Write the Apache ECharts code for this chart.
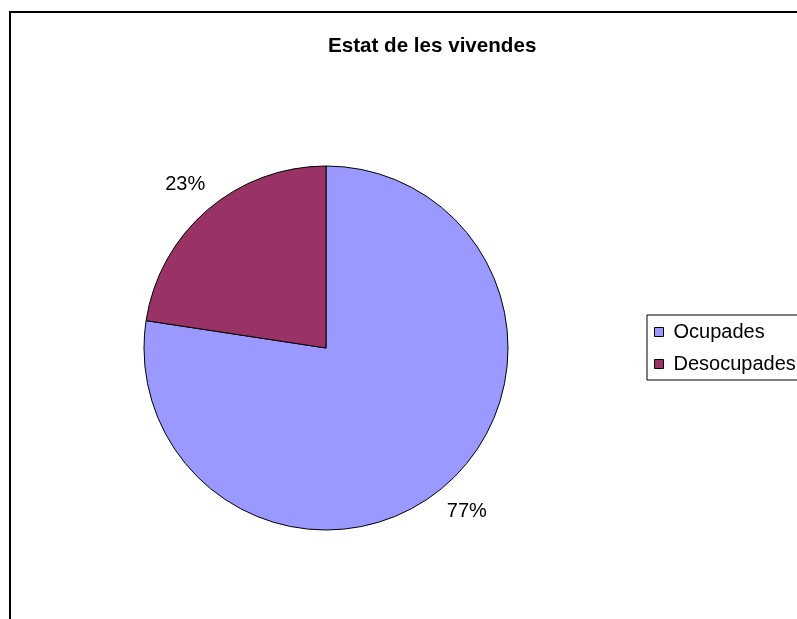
<!DOCTYPE html>
<html lang="ca">
<head>
    <meta charset="UTF-8">
    <title>Estat de les vivendes</title>
    <script src="https://cdn.jsdelivr.net/npm/echarts@6/dist/echarts.min.js"></script>
    <style>
        html, body { margin: 0; padding: 0; background: #fff; }
        #main { width: 797px; height: 619px; }
    </style>
</head>
<body>
    <div id="main"></div>
    <script>
        // data
        const categories = ['Ocupades', 'Desocupades'];
        const values = [77.4, 22.6];
        const colors = ['#9999FF', '#993366'];

        const chart = echarts.init(document.getElementById('main'));

        const pieData = categories.map((name, i) => ({
            name: name,
            value: values[i],
            itemStyle: { color: colors[i] }
        }));

        const option = {
            backgroundColor: '#fff',
            textStyle: { fontFamily: 'Liberation Sans, Arial, sans-serif' },
            animation: false,
            title: {
                text: 'Estat de les vivendes',
                left: 328,
                top: 36,
                padding: 0,
                textStyle: {
                    fontFamily: 'Liberation Sans, Arial, sans-serif',
                    fontSize: 20.6,
                    fontWeight: 'bold',
                    color: '#000'
                }
            },
            legend: {
                orient: 'vertical',
                left: 647,
                top: 315,
                padding: [7, 12, 6, 7],
                itemGap: 12,
                itemWidth: 9,
                itemHeight: 9,
                icon: 'rect',
                borderColor: '#000',
                borderWidth: 1,
                borderRadius: 0,
                backgroundColor: '#fff',
                selectedMode: false,
                itemStyle: { borderColor: '#000', borderWidth: 1 },
                textStyle: {
                    fontFamily: 'Liberation Sans, Arial, sans-serif',
                    fontSize: 20,
                    lineHeight: 20,
                    color: '#000',
                    padding: [0, 0, 0, 5]
                },
                data: categories.map((name, i) => ({
                    name: name,
                    itemStyle: { color: colors[i] }
                }))
            },
            graphic: [{
                // chart frame (right and bottom edges fall outside the window)
                type: 'rect',
                shape: { x: 10, y: 12, width: 900, height: 900 },
                style: { fill: 'none', stroke: '#000', lineWidth: 2 },
                silent: true,
                z: 0
            }],
            series: [
                {
                    name: 'Estat',
                    type: 'pie',
                    center: [326, 348],
                    radius: [0, 182],
                    startAngle: 90,
                    clockwise: true,
                    silent: true,
                    itemStyle: { borderColor: '#000', borderWidth: 1 },
                    label: { show: false },
                    labelLine: { show: false },
                    data: pieData
                },
                {
                    // transparent ring only to place the percentage labels
                    name: 'Etiquetes',
                    type: 'pie',
                    center: [326, 348],
                    radius: [182, 244],
                    startAngle: 90,
                    clockwise: true,
                    silent: true,
                    percentPrecision: 0,
                    itemStyle: { color: 'rgba(0,0,0,0)', borderWidth: 0 },
                    label: {
                        show: true,
                        position: 'inside',
                        formatter: '{d}%',
                        fontFamily: 'Liberation Sans, Arial, sans-serif',
                        fontSize: 20,
                        color: '#000',
                        textBorderWidth: 0
                    },
                    labelLine: { show: false },
                    data: categories.map((name, i) => ({ name: name, value: values[i] }))
                }
            ]
        };

        chart.setOption(option);
    </script>
</body>
</html>
